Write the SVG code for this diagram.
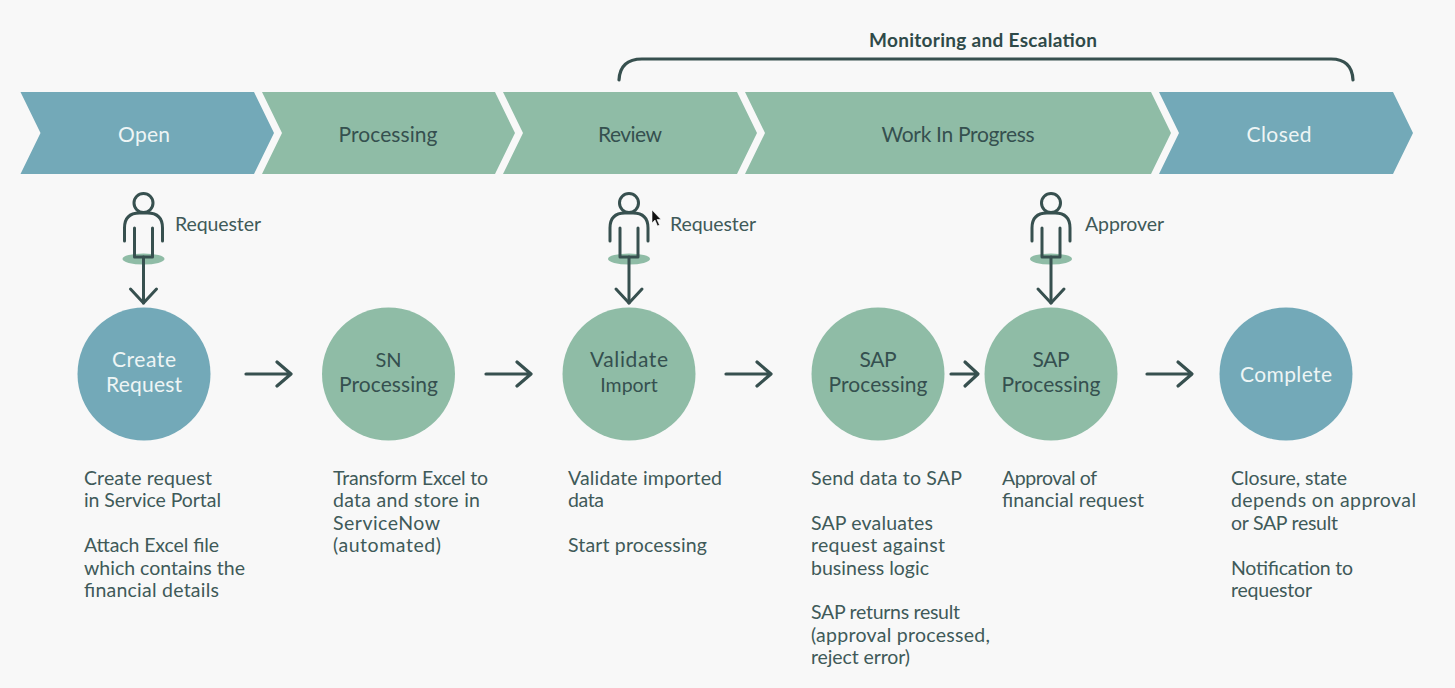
<svg xmlns="http://www.w3.org/2000/svg" xmlns:xlink="http://www.w3.org/1999/xlink" width="1455" height="688" viewBox="0 0 1455 688">
<style>
text{font-family:"Lato","Open Sans","Liberation Sans",sans-serif;transform:translateY(.8px)}
.b{fill:#73a9b8}.g{fill:#8fbca6}
.lw{font-size:21px;fill:#eef5f5;text-anchor:middle}
.ld{font-size:21px;fill:#35504f;text-anchor:middle}
.t{font-size:19.500px;fill:#3f5a59}
.line{fill:none;stroke:#37504f;stroke-width:3.200;stroke-linecap:round;stroke-linejoin:round}
.thin{fill:none;stroke:#37504f;stroke-width:3;stroke-linecap:round;stroke-linejoin:round}
</style>
<defs>
<g id="person">
<ellipse cx="0" cy="66" rx="21" ry="5.500" class="g"/>
<circle cx="0" cy="10" r="9.500" class="thin"/>
<path class="thin" d="M-19 48V35Q-19 20 -4 20H4Q19 20 19 35V48"/>
<path class="thin" d="M-9 35V64H9V35"/>
<path class="thin" d="M0 64V110"/>
<path class="thin" d="M-13 96L0 110L13 96"/>
</g>
</defs>
<rect width="1455" height="688" fill="#f8f8f8"/>
<g id="bracket"><path class="line" d="M619 80Q620 59 642 59H1331Q1352 59 1353 80"/>
<text x="983" y="46" text-anchor="middle" font-size="19" font-weight="700" fill="#2f4a49" textLength="228">Monitoring and Escalation</text></g>
<g id="phase-open"><path class="b" d="M20.500 92H254L274 133L254 174H20.500L40.500 133Z"/><text class="lw" x="144" y="141" textLength="52">Open</text></g>
<g id="phase-processing"><path class="g" d="M262 92H495L515 133L495 174H262L282 133Z"/><text class="ld" x="388" y="141" textLength="99">Processing</text></g>
<g id="phase-review"><path class="g" d="M503 92H737L757 133L737 174H503L523 133Z"/><text class="ld" x="630" y="141" textLength="64">Review</text></g>
<g id="phase-wip"><path class="g" d="M745 92H1151L1171 133L1151 174H745L765 133Z"/><text class="ld" x="958" y="141" textLength="153">Work In Progress</text></g>
<g id="phase-closed"><path class="b" d="M1159 92H1393L1413 133L1393 174H1159L1179 133Z"/><text class="lw" x="1279" y="141" textLength="65">Closed</text></g>
<g id="actor-1"><use xlink:href="#person" href="#person" transform="translate(143.500,193)"/><text class="t" x="175" y="230" textLength="86">Requester</text></g>
<g id="actor-2"><use xlink:href="#person" href="#person" transform="translate(629,193)"/><text class="t" x="670" y="230" textLength="86">Requester</text></g>
<g id="actor-3"><use xlink:href="#person" href="#person" transform="translate(1051,193)"/><text class="t" x="1085" y="230" textLength="79">Approver</text></g>
<g id="connectors">
<path class="line" d="M246 374H290M277 362L291 374L277 386"/>
<path class="line" d="M486 374H530M517 362L531 374L517 386"/>
<path class="line" d="M726 374H770M757 362L771 374L757 386"/>
<path class="line" d="M951 374H976M965 362L978 374L965 386"/>
<path class="line" d="M1147 374H1191M1178 362L1192 374L1178 386"/>
</g>
<g id="node-create"><circle class="b" cx="144" cy="374" r="66.500"/><text class="lw" x="144" y="366" textLength="64">Create</text><text class="lw" x="144" y="391" textLength="76">Request</text></g>
<g id="node-sn"><circle class="g" cx="388.500" cy="374" r="66.500"/><text class="ld" x="388.500" y="366" font-size="20" style="font-size:20px">SN</text><text class="ld" x="388.500" y="391" textLength="99">Processing</text></g>
<g id="node-validate"><circle class="g" cx="629" cy="374" r="66.500"/><text class="ld" x="629" y="366" textLength="78">Validate</text><text class="ld" x="629" y="391" style="font-size:19.500px">Import</text></g>
<g id="node-sap1"><circle class="g" cx="878" cy="374" r="66.500"/><text class="ld" x="878" y="366" textLength="37">SAP</text><text class="ld" x="878" y="391" textLength="99">Processing</text></g>
<g id="node-sap2"><circle class="g" cx="1051" cy="374" r="66.500"/><text class="ld" x="1051" y="366" textLength="37">SAP</text><text class="ld" x="1051" y="391" textLength="99">Processing</text></g>
<g id="node-complete"><circle class="b" cx="1286" cy="374" r="66.500"/><text class="lw" x="1286" y="381" textLength="92">Complete</text></g>
<g id="desc-1"><text class="t" x="84" y="484" textLength="128">Create request</text><text class="t" x="84" y="506" textLength="137">in Service Portal</text><text class="t" x="84" y="551" textLength="135">Attach Excel file</text><text class="t" x="84" y="574" textLength="161">which contains the</text><text class="t" x="84" y="596" textLength="135">financial details</text></g>
<g id="desc-2"><text class="t" x="333" y="484" textLength="155">Transform Excel to</text><text class="t" x="333" y="506" textLength="147">data and store in</text><text class="t" x="333" y="529" textLength="107">ServiceNow</text><text class="t" x="333" y="551" textLength="108">(automated)</text></g>
<g id="desc-3"><text class="t" x="568" y="484" textLength="154">Validate imported</text><text class="t" x="568" y="506" textLength="36">data</text><text class="t" x="568" y="551" textLength="139">Start processing</text></g>
<g id="desc-4"><text class="t" x="811" y="484" textLength="151">Send data to SAP</text><text class="t" x="811" y="529" textLength="122">SAP evaluates</text><text class="t" x="811" y="551" textLength="134">request against</text><text class="t" x="811" y="574" textLength="118">business logic</text><text class="t" x="811" y="618" textLength="149">SAP returns result</text><text class="t" x="811" y="641" textLength="179">(approval processed,</text><text class="t" x="811" y="663" textLength="99">reject error)</text></g>
<g id="desc-5"><text class="t" x="1002" y="484" textLength="95">Approval of</text><text class="t" x="1002" y="506" textLength="142">financial request</text></g>
<g id="desc-6"><text class="t" x="1231" y="484" textLength="116">Closure, state</text><text class="t" x="1231" y="506" textLength="185">depends on approval</text><text class="t" x="1231" y="529" textLength="107">or SAP result</text><text class="t" x="1231" y="574" textLength="122">Notification to</text><text class="t" x="1231" y="596" textLength="81">requestor</text></g>
<path id="cursor" d="M652 210V223L655 220L657.500 226L659.500 225L657 219.500H661Z" fill="#111" stroke="#fff" stroke-width=".6"/>
</svg>
